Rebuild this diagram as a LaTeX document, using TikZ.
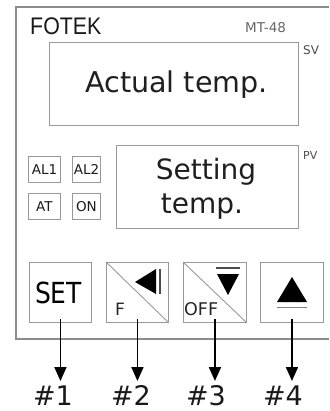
\documentclass[tikz,border=0pt]{standalone}
\usepackage{fontspec}
\setmainfont{DejaVu Sans}
\newfontfamily\fotekfont[FakeStretch=0.89]{Liberation Sans}
\usetikzlibrary{arrows.meta}
\newcommand{\fs}[1]{\fontsize{#1}{#1}\selectfont}
\begin{document}
\begin{tikzpicture}[x=1pt,y=-1pt,
  frameline/.style={draw=black!45, line width=1.1pt},
  boxline/.style={draw=black!40, line width=0.9pt},
  panel/.style={boxline, rectangle, inner sep=0pt, anchor=north west},
  lamp/.style={panel, font=\fs{13.5}, text=black!90},
  txt/.style={inner sep=0pt, anchor=base},
  txtw/.style={inner sep=0pt, anchor=base west},
  arr/.style={line width=1.8pt, -{Triangle[length=14pt,width=12pt]}}]
\useasboundingbox (0,0) rectangle (329,411);
% outer frame
\draw[frameline] (329,7) -- (16,7) -- (16,339) -- (329,339);
% brand and model
\node[txtw, font=\fotekfont\fs{24}, text=black!90] (brand) at (30,34.5) {FOTEK};
\node[txtw, font=\fs{13.5}, text=black!60] (model) at (245,33) {MT-48};
% SV display
\node[panel, minimum width=249pt, minimum height=83pt] (sv) at (49,42) {};
\node[txtw, font=\fs{12}, text=black!70] (svl) at (303,55) {SV};
\node[txt, font=\fs{28.6}, text=black!88] (act) at (176.5,93) {Actual temp.};
% PV display
\node[panel, minimum width=182pt, minimum height=83pt] (pv) at (116,145) {};
\node[txtw, font=\fs{11}, text=black!70] (pvl) at (303,160) {PV};
\node[txt, font=\fs{28}, text=black!88] (set1) at (206,180) {Setting};
\node[txt, font=\fs{28}, text=black!88] (set2) at (202,213) {temp.};
% lamps
\node[lamp, minimum width=32pt, minimum height=26pt] (al1) at (28,156) {AL1};
\node[lamp, minimum width=28pt, minimum height=26pt] (al2) at (72,156) {AL2};
\node[lamp, minimum width=32pt, minimum height=26pt] (at) at (28,193) {AT};
\node[lamp, minimum width=28pt, minimum height=26pt] (on) at (72,193) {ON};
% buttons
\node[panel, minimum width=62pt, minimum height=60pt] (b1) at (29,262) {};
\node[panel, minimum width=62pt, minimum height=60pt] (b2) at (106,262) {};
\node[panel, minimum width=63pt, minimum height=60pt] (b3) at (183,262) {};
\node[panel, minimum width=63pt, minimum height=60pt] (b4) at (260,262) {};
% button 1
\node[txt, font=\fs{29}, text=black] (settxt) at (58.5,303) {\scalebox{0.86}[1]{SET}};
% button 2
\draw[boxline] (b2.north west) -- (b2.south east);
\node[txtw, font=\fs{17}, text=black!85] (ftxt) at (115,315) {F};
\fill (135,282) -- (156,269) -- (156,294) -- cycle;
\draw[line width=1.6pt, black!70] (160,269) -- (160,294);
% button 3
\draw[boxline] (b3.north west) -- (b3.south east);
\node[txtw, font=\fs{17.5}, text=black!85] (offtxt) at (184,315) {OFF};
\fill (217,274) -- (239,274) -- (228,295) -- cycle;
\draw[line width=1.6pt, black!70] (216,268) -- (240,268);
% button 4
\fill (292,277) -- (307,302) -- (277,302) -- cycle;
\draw[line width=0.9pt, black!50] (277,307) -- (307,307);
% labels and arrows
\node[txt, font=\fs{27}, text=black!90] (l1) at (53,405.5) {\#1};
\node[txt, font=\fs{27}, text=black!90] (l2) at (131,405.5) {\#2};
\node[txt, font=\fs{27}, text=black!90] (l3) at (206,405.5) {\#3};
\node[txt, font=\fs{27}, text=black!90] (l4) at (283,405.5) {\#4};
\coordinate (tipy) at (0,381);
\draw[arr] ([yshift=4pt]b1.south) -- (b1.south |- tipy);
\draw[arr] ([yshift=4pt]b2.south) -- (b2.south |- tipy);
\draw[arr] ([yshift=4pt]b3.south) -- (b3.south |- tipy);
\draw[arr] ([yshift=4pt]b4.south) -- (b4.south |- tipy);
\end{tikzpicture}
\end{document}
